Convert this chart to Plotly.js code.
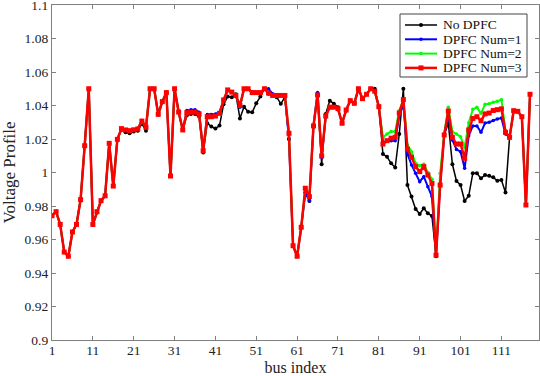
<!DOCTYPE html>
<html>
<head>
<meta charset="utf-8">
<script src="https://cdn.plot.ly/plotly-3.0.1.min.js"></script>
<style>
  body { margin: 0; background: #fff; }
  #myPlot { width: 540px; height: 376px; }
</style>
</head>
<body>
<div id="myPlot"></div>
<script>
// bus numbers 1..118
const buses = [];
for (let i = 1; i <= 118; i++) buses.push(i);

// No DPFC
const noDpfc = [
  0.9742,0.9766,0.969,0.9525,0.950,0.9645,0.969,0.9838,1.016,1.050,
  0.969,0.9766,0.9832,0.9861,1.0174,0.9919,1.0198,1.0255,1.024,1.0235,
  1.0245,1.025,1.029,1.025,1.050,1.050,1.0347,1.0423,1.0477,0.9979,
  1.050,1.0361,1.0254,1.034,1.035,1.035,1.0334,1.012,1.0294,1.0274,
  1.0262,1.028,1.0407,1.0453,1.045,1.0467,1.0323,1.0393,1.0363,1.036,
  1.0413,1.0453,1.050,1.047,1.046,1.045,1.041,1.045,1.020,0.9563,
  0.950,0.9673,0.988,0.983,1.0278,1.046,1.005,1.035,1.0429,1.041,
  1.039,1.0294,1.0373,1.0429,1.0413,1.050,1.0441,1.0467,1.050,1.050,
  1.0393,1.011,1.0094,1.0055,1.003,1.023,1.050,0.9925,0.9856,0.9782,
  0.9752,0.9786,0.9756,0.974,0.950,0.9925,1.0224,1.0294,1.0049,0.9949,
  0.9925,0.983,0.9861,0.9995,0.9995,0.9965,0.9985,0.998,0.9971,0.9951,
  0.9955,0.988,1.021,1.0369,1.0365,1.0333,0.9806,1.0467
];

// DPFC Num=1
const dpfc1 = [
  0.9742,0.9766,0.969,0.9525,0.950,0.9645,0.969,0.9838,1.016,1.050,
  0.969,0.9766,0.9832,0.9861,1.0174,0.9919,1.0198,1.0262,1.0254,1.025,
  1.0255,1.026,1.031,1.027,1.050,1.050,1.0347,1.0423,1.0477,0.9979,
  1.050,1.0361,1.0254,1.037,1.0375,1.0375,1.036,1.013,1.0347,1.0347,
  1.035,1.036,1.0433,1.0493,1.048,1.046,1.039,1.050,1.050,1.0477,
  1.0477,1.0477,1.050,1.050,1.047,1.046,1.046,1.046,1.0198,0.9563,
  0.950,0.9673,0.988,0.9832,1.0278,1.0477,1.009,1.0337,1.039,1.039,
  1.0381,1.0294,1.0373,1.0429,1.0413,1.050,1.0441,1.0467,1.050,1.0485,
  1.0393,1.018,1.019,1.019,1.019,1.034,1.041,1.0111,1.0045,0.9995,
  0.9945,0.9975,0.9915,0.9856,0.950,0.9925,1.0224,1.0346,1.0194,1.0138,
  1.0124,1.0025,1.022,1.0278,1.0278,1.024,1.0295,1.030,1.031,1.032,
  1.0325,1.023,1.021,1.0369,1.0365,1.0333,0.9806,1.0467
];

// DPFC Num=2
const dpfc2 = [
  0.9742,0.9766,0.969,0.9525,0.950,0.9645,0.969,0.9838,1.016,1.050,
  0.969,0.9766,0.9832,0.9861,1.0174,0.9919,1.0198,1.0262,1.0254,1.025,
  1.0255,1.026,1.0307,1.027,1.050,1.050,1.0347,1.0423,1.0477,0.9979,
  1.050,1.0361,1.0254,1.0357,1.036,1.036,1.0349,1.013,1.0333,1.0333,
  1.0337,1.0353,1.0433,1.0493,1.048,1.046,1.040,1.050,1.050,1.0477,
  1.0477,1.0477,1.050,1.0474,1.046,1.046,1.046,1.046,1.0234,0.9563,
  0.950,0.9673,0.9906,0.9856,1.0278,1.0463,1.0099,1.0337,1.039,1.039,
  1.0381,1.0294,1.0373,1.0429,1.0413,1.050,1.0441,1.0467,1.050,1.0485,
  1.0393,1.021,1.023,1.0245,1.0245,1.037,1.0435,1.0164,1.0124,1.0055,
  1.004,1.005,1.000,0.996,0.951,0.9995,1.023,1.0389,1.0244,1.023,
  1.0214,1.015,1.0297,1.0377,1.0389,1.0353,1.0407,1.041,1.042,1.0425,
  1.0435,1.025,1.021,1.0369,1.0365,1.0333,0.9806,1.0467
];

// DPFC Num=3
const dpfc3 = [
  0.9742,0.9766,0.969,0.9525,0.950,0.9645,0.969,0.9838,1.016,1.050,
  0.969,0.9766,0.9832,0.9861,1.0174,0.9919,1.0198,1.0262,1.0254,1.025,
  1.0255,1.026,1.0307,1.027,1.050,1.050,1.0347,1.0423,1.0477,0.9979,
  1.050,1.0361,1.0254,1.0357,1.036,1.036,1.0349,1.013,1.0333,1.0333,
  1.0337,1.0353,1.0433,1.0493,1.048,1.046,1.040,1.050,1.050,1.0477,
  1.0477,1.0477,1.050,1.0474,1.046,1.046,1.046,1.046,1.0234,0.9563,
  0.950,0.9673,0.9906,0.9856,1.0278,1.0463,1.0099,1.0337,1.039,1.039,
  1.0381,1.0294,1.0373,1.0429,1.0413,1.050,1.0441,1.0467,1.050,1.0485,
  1.0393,1.017,1.019,1.0205,1.021,1.0355,1.0435,1.014,1.0091,1.0035,
  1.0005,1.0035,0.9985,0.9935,0.9507,0.9925,1.0224,1.0367,1.021,1.017,
  1.017,1.0085,1.0254,1.0323,1.0333,1.0309,1.035,1.0355,1.037,1.0375,
  1.038,1.024,1.021,1.0369,1.0365,1.0333,0.9806,1.0467
];

const xTicks = [1, 11, 21, 31, 41, 51, 61, 71, 81, 91, 101, 111];
const yTicks = [0.9, 0.92, 0.94, 0.96, 0.98, 1, 1.02, 1.04, 1.06, 1.08, 1.1];
const yTickText = ['0.9','0.92','0.94','0.96','0.98','1','1.02','1.04','1.06','1.08','1.1'];

const serif = '"Liberation Serif", "Times New Roman", serif';

var trace1 = {
  x: buses, y: noDpfc, type: 'scatter', mode: 'lines+markers',
  name: 'No DPFC',
  line: { color: '#000000', width: 1.5 },
  marker: { color: '#000000', size: 4, symbol: 'circle' }
};
var trace2 = {
  x: buses, y: dpfc1, type: 'scatter', mode: 'lines+markers',
  name: 'DPFC Num=1',
  line: { color: '#0000ff', width: 2 },
  marker: { color: '#0000ff', size: 3.5, symbol: 'circle' }
};
var trace3 = {
  x: buses, y: dpfc2, type: 'scatter', mode: 'lines+markers',
  name: 'DPFC Num=2',
  line: { color: '#00ff00', width: 2 },
  marker: { color: '#00ff00', size: 3.5, symbol: 'circle' }
};
var trace4 = {
  x: buses, y: dpfc3, type: 'scatter', mode: 'lines+markers',
  name: 'DPFC Num=3',
  line: { color: '#ff0000', width: 2.5 },
  marker: { color: '#ff0000', size: 5, symbol: 'square' }
};
var data = [trace1, trace2, trace3, trace4];

// compact MATLAB-style legend box (plotly's own legend rows are too tall here)
const W = 540, H = 376, mL = 52, mR = 1, mT = 5, mB = 36;
const px = v => (v - mL) / (W - mL - mR);
const py = v => 1 - (v - mT) / (H - mT - mB);
const shapes = [{
  type: 'rect', xref: 'paper', yref: 'paper',
  x0: px(400), x1: px(527), y0: py(14), y1: py(77),
  line: { color: '#444', width: 1 }, fillcolor: '#fff', layer: 'above'
}];
const annotations = [];
data.forEach((tr, i) => {
  const yc = 25 + i * 14.3;
  shapes.push({
    type: 'line', xref: 'paper', yref: 'paper', layer: 'above',
    x0: px(405), x1: px(437), y0: py(yc), y1: py(yc),
    line: { color: tr.line.color, width: tr.line.width }
  });
  const r = tr.marker.size / 2;
  shapes.push({
    type: tr.marker.symbol === 'square' ? 'rect' : 'circle',
    xref: 'paper', yref: 'paper', layer: 'above',
    x0: px(421 - r), x1: px(421 + r), y0: py(yc + r), y1: py(yc - r),
    fillcolor: tr.marker.color, line: { width: 0 }
  });
  annotations.push({
    xref: 'paper', yref: 'paper', x: px(441), y: py(yc),
    xanchor: 'left', yanchor: 'middle', showarrow: false,
    text: tr.name, font: { family: serif, size: 13.5, color: '#111' }
  });
});

var axisCommon = {
  showline: true, mirror: 'ticks', linecolor: '#808080', linewidth: 1.3,
  ticks: 'inside', ticklen: 4, tickcolor: '#808080', tickwidth: 1,
  showgrid: false, zeroline: false, ticklabeloverflow: 'allow',
  tickfont: { family: serif, size: 13.5, color: '#222' }
};

var layout = {
  width: W, height: H,
  margin: { l: mL, r: mR, t: mT, b: mB },
  paper_bgcolor: '#fff', plot_bgcolor: '#fff',
  font: { family: serif },
  showlegend: false,
  shapes: shapes,
  annotations: annotations,
  xaxis: Object.assign({}, axisCommon, {
    range: [1, 120.2], tickvals: xTicks, ticklabelstandoff: -2,
    title: { text: 'bus index', font: { family: serif, size: 16, color: '#222' }, standoff: 6 }
  }),
  yaxis: Object.assign({}, axisCommon, {
    range: [0.9, 1.1], tickvals: yTicks, ticktext: yTickText,
    title: { text: 'Voltage Profile', font: { family: serif, size: 17, color: '#222' }, standoff: 6 }
  })
};

Plotly.newPlot('myPlot', data, layout, { displayModeBar: false });
</script>
</body>
</html>
